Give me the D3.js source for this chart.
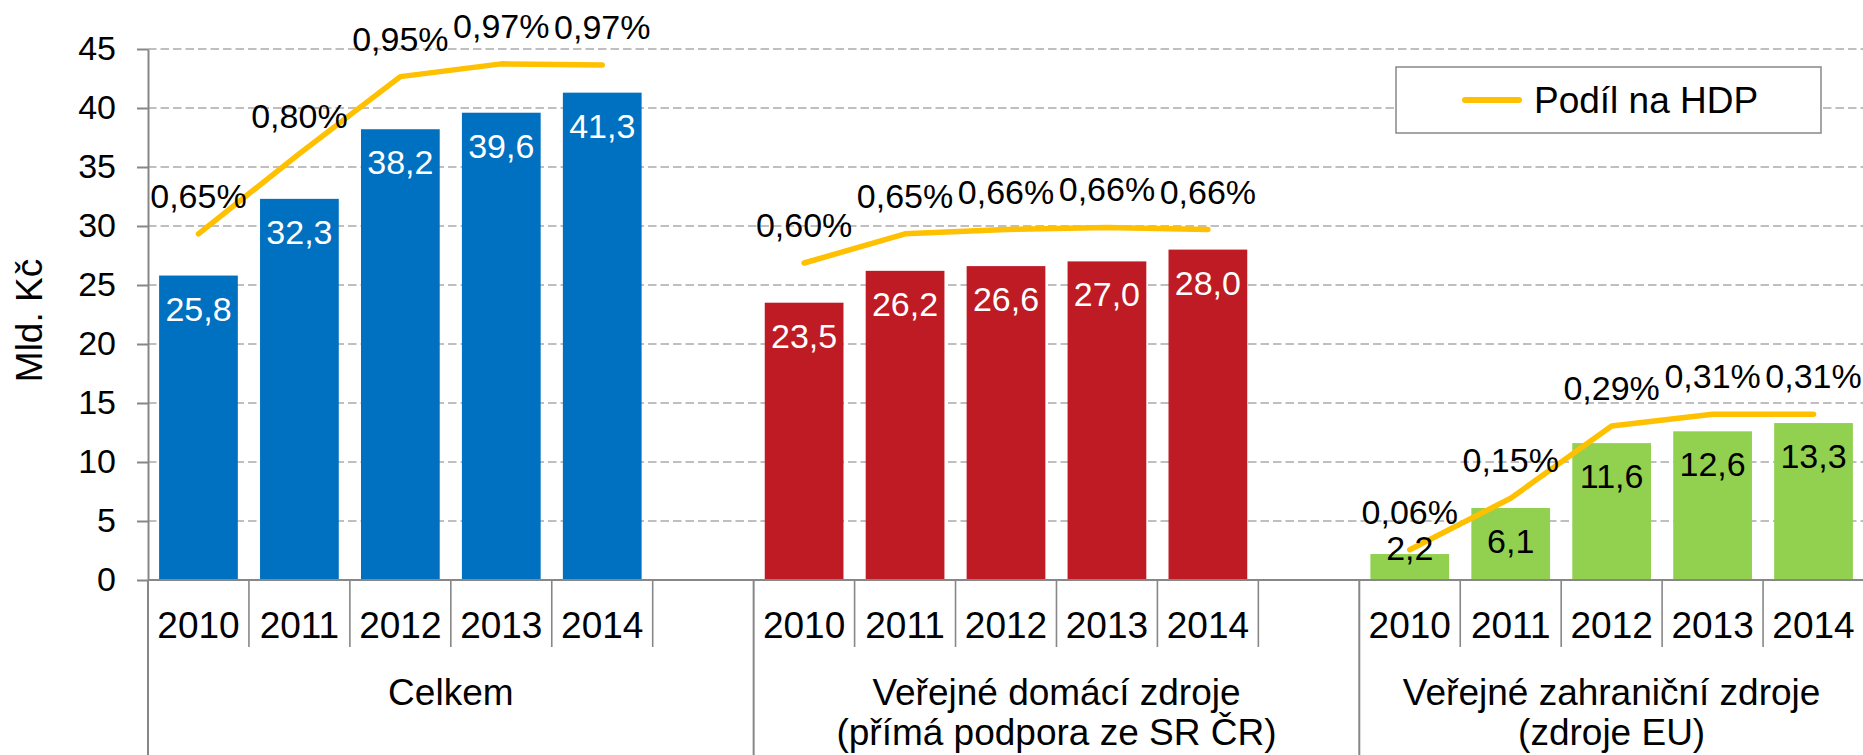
<!DOCTYPE html>
<html>
<head>
<meta charset="utf-8">
<script src="https://cdn.jsdelivr.net/npm/d3@7"></script>
<style>
  html, body { margin: 0; padding: 0; background: #fff; }
  svg { display: block; font-family: "Liberation Sans", Arial, sans-serif; }
</style>
</head>
<body>
<svg id="chart" width="1863" height="755"></svg>
<script>
// ---------------- data ----------------
const years = ["2010", "2011", "2012", "2013", "2014"];
const groupLabels = [
  ["Celkem"],
  ["Veřejné domácí zdroje", "(přímá podpora ze SR ČR)"],
  ["Veřejné zahraniční zdroje", "(zdroje EU)"]
];
const valuesCelkem = [25.8, 32.3, 38.2, 39.6, 41.3];
const valuesDomaci = [23.5, 26.2, 26.6, 27.0, 28.0];
const valuesEU     = [2.2, 6.1, 11.6, 12.6, 13.3];
const hdpCelkem = [0.652, 0.803, 0.948, 0.972, 0.970];
const hdpDomaci = [0.597, 0.652, 0.660, 0.664, 0.660];
const hdpEU     = [0.057, 0.154, 0.290, 0.312, 0.312];
const yTicks = [0, 5, 10, 15, 20, 25, 30, 35, 40, 45];
const yTitle = "Mld. Kč";
const legendLabel = "Podíl na HDP";

const barValues = [valuesCelkem, valuesDomaci, valuesEU];
const hdpValues = [hdpCelkem, hdpDomaci, hdpEU];
const barColors = ["#0070C0", "#BE1B24", "#92D050"];
const barLabelColors = ["#FFFFFF", "#FFFFFF", "#000000"];
const lineColor = "#FFC000";
const axisColor = "#878787";
const gridColor = "#BFBFBF";

// ---------------- layout ----------------
const svg = d3.select("#chart");
const W = 1863, H = 755;
const plotLeft = 148, plotRight = 1864, y0 = 580, yTop = 49;

// slot keys: 5 years + blank per group (last group without blank)
const slots = [];
groupLabels.forEach((g, gi) => {
  years.forEach(yr => slots.push({ key: gi + "-" + yr, group: gi, year: yr }));
  if (gi < groupLabels.length - 1) slots.push({ key: "gap" + gi, group: gi, year: "" });
});

const x = d3.scaleBand()
  .domain(slots.map(s => s.key))
  .range([plotLeft, plotRight])
  .paddingInner(0.22)
  .paddingOuter(0.11);
const step = x.step();

const y = d3.scaleLinear().domain([0, 45]).range([y0, yTop]);
const y2 = d3.scaleLinear().domain([0, 1.0]).range([y0, yTop]);

const fmtPct = v => d3.format(".2f")(v).replace(".", ",") + "%";
const fmtVal = v => d3.format(".1f")(v).replace(".", ",");

// ---------------- gridlines ----------------
svg.append("g")
  .selectAll("line")
  .data(yTicks.filter(t => t > 0))
  .join("line")
  .attr("x1", plotLeft).attr("x2", W)
  .attr("y1", d => y(d)).attr("y2", d => y(d))
  .attr("stroke", gridColor)
  .attr("stroke-width", 2)
  .attr("stroke-dasharray", "8.5,4");

// ---------------- bars ----------------
const barData = [];
barValues.forEach((arr, gi) => arr.forEach((v, i) => barData.push({ group: gi, key: gi + "-" + years[i], v })));

svg.append("g")
  .selectAll("rect")
  .data(barData)
  .join("rect")
  .attr("x", d => x(d.key))
  .attr("width", x.bandwidth())
  .attr("y", d => y(d.v))
  .attr("height", d => y0 - y(d.v))
  .attr("fill", d => barColors[d.group]);

// ---------------- lines ----------------
const line = d3.line()
  .x(d => x(d.key) + x.bandwidth() / 2)
  .y(d => y2(d.v));

hdpValues.forEach((arr, gi) => {
  const pts = arr.map((v, i) => ({ key: gi + "-" + years[i], v }));
  svg.append("path")
    .datum(pts)
    .attr("d", line)
    .attr("fill", "none")
    .attr("stroke", lineColor)
    .attr("stroke-width", 5.5)
    .attr("stroke-linejoin", "round")
    .attr("stroke-linecap", "round");
});

// ---------------- axes ----------------
const yAxis = d3.axisLeft(y)
  .tickValues(yTicks)
  .tickSizeInner(11)
  .tickSizeOuter(0)
  .tickPadding(21)
  .tickFormat(d => d);
const yg = svg.append("g").attr("transform", `translate(${plotLeft},0)`).call(yAxis);
yg.select(".domain").attr("stroke", axisColor).attr("stroke-width", 2);
yg.selectAll(".tick line").attr("stroke", axisColor).attr("stroke-width", 2);
yg.selectAll(".tick text")
  .attr("font-size", 34)
  .attr("font-family", "Liberation Sans, Arial, sans-serif")
  .attr("fill", "#000");

// x axis (year labels)
const xAxis = d3.axisBottom(x)
  .tickSize(0)
  .tickPadding(31.5)
  .tickFormat(k => slots.find(s => s.key === k).year);
const xg = svg.append("g").attr("transform", `translate(0,${y0})`).call(xAxis);
xg.select(".domain").remove();
xg.selectAll(".tick text")
  .attr("font-size", 37)
  .attr("font-family", "Liberation Sans, Arial, sans-serif")
  .attr("fill", "#000");

// slot boundaries
const groupStarts = [];
slots.forEach((s, i) => { if (i === 0 || s.group !== slots[i - 1].group) groupStarts.push(i); });
const boundaries = d3.range(0, slots.length + 1).map(i => ({
  xpos: plotLeft + i * step,
  long: groupStarts.includes(i) || i === slots.length
}));
svg.append("g")
  .selectAll("line")
  .data(boundaries)
  .join("line")
  .attr("x1", d => d.xpos).attr("x2", d => d.xpos)
  .attr("y1", y0)
  .attr("y2", d => d.long ? H : 647)
  .attr("stroke", axisColor)
  .attr("stroke-width", d => d.long ? 2 : 1.6);

// x axis line
svg.append("line")
  .attr("x1", plotLeft).attr("x2", W)
  .attr("y1", y0).attr("y2", y0)
  .attr("stroke", axisColor).attr("stroke-width", 2);

// group labels
groupLabels.forEach((lines, gi) => {
  const idx = slots.map((s, i) => s.group === gi ? i : -1).filter(i => i >= 0);
  const start = plotLeft + idx[0] * step;
  const end = plotLeft + (idx[idx.length - 1] + 1) * step;
  const cx = (start + end) / 2;
  const t = svg.append("text")
    .attr("text-anchor", "middle")
    .attr("font-size", 37)
    .attr("fill", "#000");
  lines.forEach((ln, li) => {
    t.append("tspan").attr("x", cx).attr("y", 705 + li * 40).text(ln);
  });
});

// y title
svg.append("text")
  .attr("transform", `translate(42,${(y0 + yTop) / 2 + 6}) rotate(-90)`)
  .attr("text-anchor", "middle")
  .attr("font-size", 37)
  .attr("fill", "#000")
  .text(yTitle);

// ---------------- data labels ----------------
svg.append("g")
  .selectAll("text")
  .data(barData)
  .join("text")
  .attr("x", d => x(d.key) + x.bandwidth() / 2)
  .attr("y", d => Math.min(y(d.v) + 45, y0 - 20))
  .attr("text-anchor", "middle")
  .attr("font-size", 34)
  .attr("fill", d => barLabelColors[d.group])
  .text(d => fmtVal(d.v));

const pctData = [];
hdpValues.forEach((arr, gi) => arr.forEach((v, i) => pctData.push({ key: gi + "-" + years[i], v })));
svg.append("g")
  .selectAll("text")
  .data(pctData)
  .join("text")
  .attr("x", d => x(d.key) + x.bandwidth() / 2)
  .attr("y", d => y2(d.v) - 26)
  .attr("text-anchor", "middle")
  .attr("font-size", 34)
  .attr("fill", "#000")
  .text(d => fmtPct(d.v));

// ---------------- legend ----------------
const lg = svg.append("g");
lg.append("rect")
  .attr("x", 1396).attr("y", 67)
  .attr("width", 425).attr("height", 66)
  .attr("fill", "#fff")
  .attr("stroke", "#888")
  .attr("stroke-width", 1.5);
lg.append("line")
  .attr("x1", 1465).attr("x2", 1519)
  .attr("y1", 100).attr("y2", 100)
  .attr("stroke", lineColor)
  .attr("stroke-width", 6)
  .attr("stroke-linecap", "round");
lg.append("text")
  .attr("x", 1534).attr("y", 113)
  .attr("font-size", 37)
  .attr("fill", "#000")
  .text(legendLabel);
</script>
</body>
</html>
